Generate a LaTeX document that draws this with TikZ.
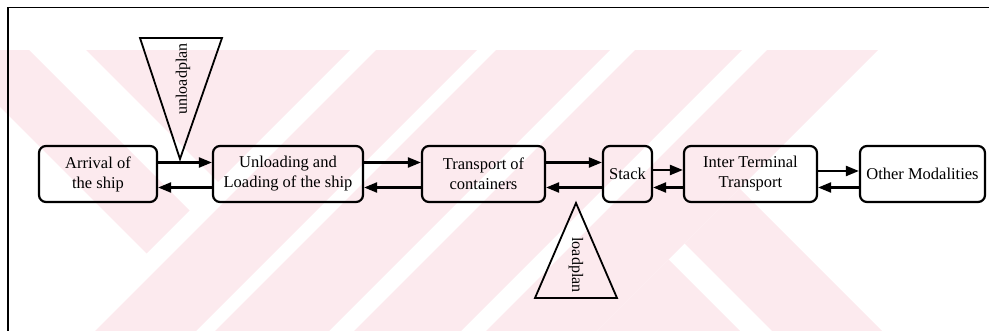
\documentclass[tikz,border=0pt]{standalone}
\usepackage{fontspec}
\setmainfont{Liberation Serif}
\usetikzlibrary{arrows.meta}
\definecolor{wmpink}{RGB}{252,234,238}

\begin{document}
\begin{tikzpicture}[x=1pt,y=-1pt,
  frameline/.style={line width=1.8pt},
  box/.style={draw=black, line width=2.2pt, rounded corners=7pt,
    minimum height=56pt, inner sep=0pt, align=center,
    font=\fontsize{16.5}{20}\selectfont},
  link/.style={line width=2.2pt, -{Triangle[length=13pt,width=10pt]}},
  planshape/.style={line width=1.8pt, line join=miter},
  planlabel/.style={inner sep=0pt, font=\fontsize{16}{18}\selectfont}]

\useasboundingbox (0,0) rectangle (989,331);

% background emblem made of diagonal bands
\begin{scope}
  \clip (0,51) rectangle (989,331);
  \fill[wmpink] (-67,40) -- (19,40) -- (189.5,210.5) -- (146.5,253.5) -- cycle;
  \fill[wmpink] (76,40) -- (360,40) -- (218,182) -- cycle;
  \fill[wmpink] (386,40) -- (487,40) -- (187,340) -- (86,340) -- cycle;
  \fill[wmpink] (506,40) -- (620,40) -- (320,340) -- (206,340) -- cycle;
  \fill[wmpink] (645,40) -- (752,40) -- (452,340) -- (345,340) -- cycle;
  \fill[wmpink] (777,40) -- (888,40) -- (588,340) -- (477,340) -- cycle;
  \fill[wmpink] (668.5,259.5) -- (749,340) -- (588,340) -- cycle;
  \fill[wmpink] (684.5,243.5) -- (739.5,188.5) -- (891,340) -- (781,340) -- cycle;
\end{scope}

% outer frame
\coordinate (frameTR) at (989,7.5);
\coordinate (frameTL) at (8,7.5);
\coordinate (frameBL) at (8,331);
\draw[frameline] (frameTR) -- (frameTL) -- (frameBL);

% process steps
\node[box, minimum width=118pt] (arrival)   at (98,174)    {Arrival of\\the ship};
\node[box, minimum width=150pt] (unload)    at (288,174)   {Unloading and\\Loading of the ship};
\node[box, minimum width=123pt] (transport) at (483.5,174) {Transport of\\containers};
\node[box, minimum width=49pt]  (stack)     at (627.5,174) {Stack};
\node[box, minimum width=133pt] (inter)     at (750.5,174) {Inter Terminal\\Transport};
\node[box, minimum width=125pt] (other)     at (922.5,174) {Other Modalities};

% flows in both directions
\draw[link] ([yshift=11.5pt]arrival.east)   -- ([yshift=11.5pt]unload.west);
\draw[link] ([yshift=-13.5pt]unload.west)   -- ([yshift=-13.5pt]arrival.east);
\draw[link] ([yshift=11.5pt]unload.east)    -- ([yshift=11.5pt]transport.west);
\draw[link] ([yshift=-13.5pt]transport.west) -- ([yshift=-13.5pt]unload.east);
\draw[link] ([yshift=11.5pt]transport.east) -- ([yshift=11.5pt]stack.west);
\draw[link] ([yshift=-13.5pt]stack.west)    -- ([yshift=-13.5pt]transport.east);
\draw[link] ([yshift=4pt]stack.east)        -- ([yshift=4pt]inter.west);
\draw[link] ([yshift=-13.5pt]inter.west)    -- ([yshift=-13.5pt]stack.east);
\draw[link] ([yshift=3pt]inter.east)        -- ([yshift=3pt]other.west);
\draw[link] ([yshift=-13.5pt]other.west)    -- ([yshift=-13.5pt]inter.east);

% plans feeding the flow
\coordinate (upA) at (140,38);
\coordinate (upB) at (222,38);
\coordinate (upC) at (180,159);
\draw[planshape] (upA) -- (upB) -- (upC) -- cycle;
\node[planlabel, rotate=90] (unloadplan) at (183,79) {unloadplan};

\coordinate (loA) at (576,203);
\coordinate (loB) at (617,298);
\coordinate (loC) at (535,298);
\draw[planshape] (loA) -- (loB) -- (loC) -- cycle;
\node[planlabel, rotate=-90] (loadplan) at (576,265) {loadplan};

\end{tikzpicture}
\end{document}
